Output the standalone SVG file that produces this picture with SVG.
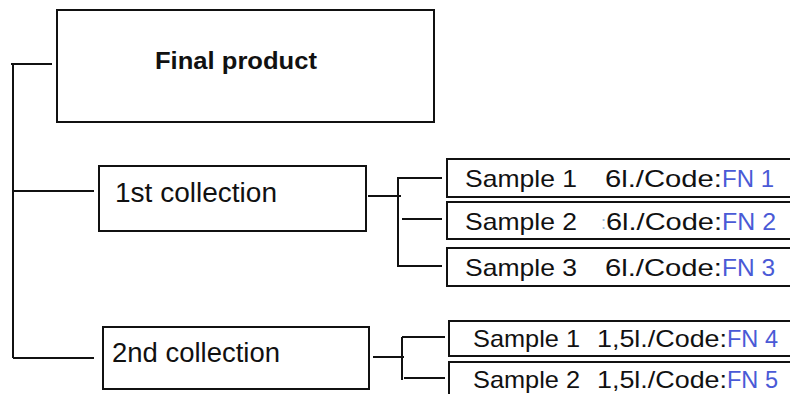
<svg xmlns="http://www.w3.org/2000/svg" width="790" height="394" viewBox="0 0 790 394">
<style>
.box{fill:#fff;stroke:#111;stroke-width:2}
.ln{fill:none;stroke:#111;stroke-width:2}
.t{font-family:"Liberation Sans",Arial,sans-serif;fill:#111}
.s{font-size:24px}
.fn{fill:#4a5ad6}
</style>
<rect width="790" height="394" fill="#fff"/>
<g id="connectors">
<path class="ln" d="M11 64H52M13 64V358M13 191H94M13 358H94"/>
<path class="ln" d="M368 196H401M398 177V267M398 178H442M402 219H442M398 266H442"/>
<path class="ln" d="M373 357H404M402 337V380M402 337H445M404 378H445"/>
</g>
<g id="final-product">
<rect class="box" x="57" y="10" width="377" height="112"/>
<text class="t" x="155" y="69" font-size="24" font-weight="bold" textLength="162" lengthAdjust="spacingAndGlyphs">Final product</text>
</g>
<g id="collection-1">
<rect class="box" x="99" y="166" width="267" height="65"/>
<text class="t" x="115" y="202" font-size="27" textLength="162" lengthAdjust="spacingAndGlyphs">1st collection</text>
</g>
<g id="collection-2">
<rect class="box" x="103" y="327" width="266" height="62"/>
<text class="t" x="112" y="362" font-size="27" textLength="168" lengthAdjust="spacingAndGlyphs">2nd collection</text>
</g>
<g id="sample-1-1">
<rect class="box" x="447" y="159" width="350" height="38"/>
<text class="t s" x="465" y="187" textLength="112" lengthAdjust="spacingAndGlyphs">Sample 1</text>
<text class="t s" x="605" y="187" textLength="117" lengthAdjust="spacingAndGlyphs">6l./Code:</text>
<text class="t s fn" x="722" y="187" textLength="52" lengthAdjust="spacingAndGlyphs">FN 1</text>
</g>
<g id="sample-1-2">
<rect class="box" x="447" y="202" width="350" height="37"/>
<text class="t s" x="465" y="230" textLength="112" lengthAdjust="spacingAndGlyphs">Sample 2</text>
<text class="t" x="601" y="229" font-size="18" fill="#9ab8d8" style="fill:#9ab8d8">:</text>
<text class="t s" x="606" y="230" textLength="116" lengthAdjust="spacingAndGlyphs">6l./Code:</text>
<text class="t s fn" x="722" y="230" textLength="54" lengthAdjust="spacingAndGlyphs">FN 2</text>
</g>
<g id="sample-1-3">
<rect class="box" x="447" y="248" width="350" height="38"/>
<text class="t s" x="465" y="276" textLength="112" lengthAdjust="spacingAndGlyphs">Sample 3</text>
<text class="t s" x="605" y="276" textLength="117" lengthAdjust="spacingAndGlyphs">6l./Code:</text>
<text class="t s fn" x="722" y="276" textLength="53" lengthAdjust="spacingAndGlyphs">FN 3</text>
</g>
<g id="sample-2-1">
<rect class="box" x="449" y="321" width="350" height="35"/>
<text class="t s" x="473" y="347" textLength="107" lengthAdjust="spacingAndGlyphs">Sample 1</text>
<text class="t s" x="597" y="347" textLength="130" lengthAdjust="spacingAndGlyphs">1,5l./Code:</text>
<text class="t s fn" x="727" y="347" textLength="51" lengthAdjust="spacingAndGlyphs">FN 4</text>
</g>
<g id="sample-2-2">
<rect class="box" x="449" y="362" width="350" height="40"/>
<text class="t s" x="473" y="388" textLength="107" lengthAdjust="spacingAndGlyphs">Sample 2</text>
<text class="t s" x="597" y="388" textLength="130" lengthAdjust="spacingAndGlyphs">1,5l./Code:</text>
<text class="t s fn" x="727" y="388" textLength="51" lengthAdjust="spacingAndGlyphs">FN 5</text>
</g>
</svg>
